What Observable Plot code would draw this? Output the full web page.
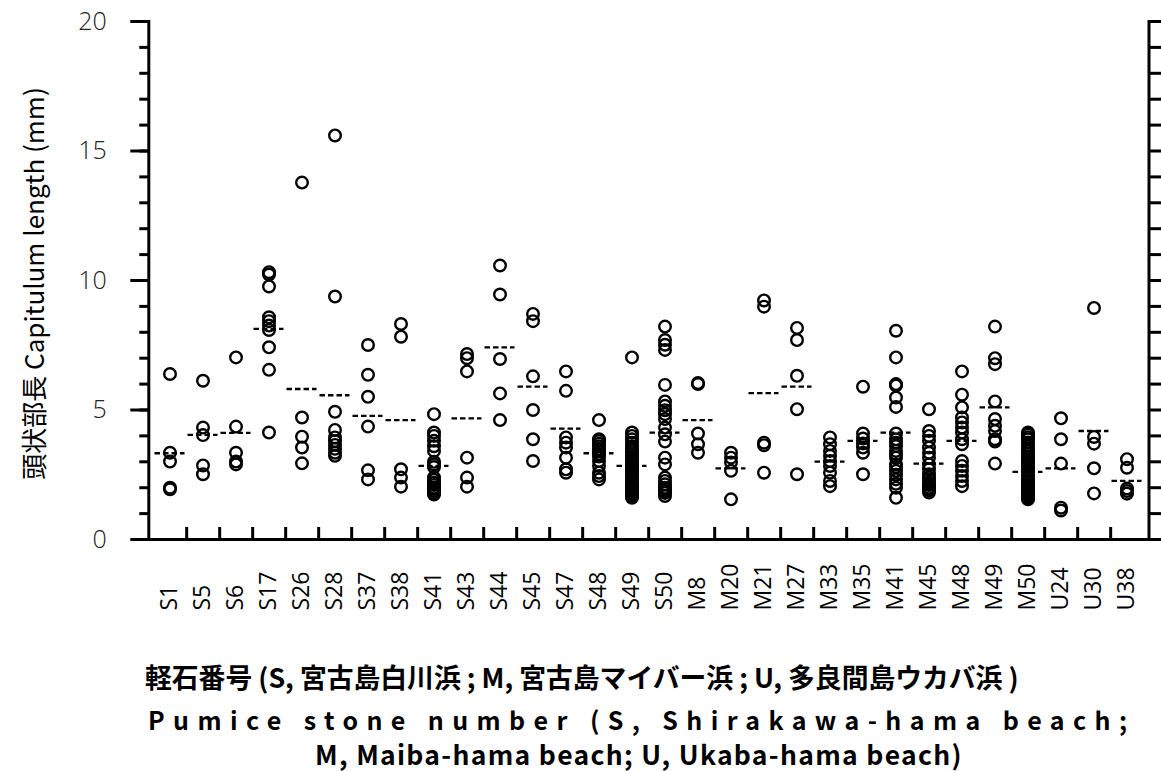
<!DOCTYPE html>
<html><head><meta charset="utf-8">
<script src="https://cdn.jsdelivr.net/npm/d3@7"></script>
<script src="https://cdn.jsdelivr.net/npm/@observablehq/plot@0.6"></script>
<style>
body{margin:0;background:#fff;width:1161px;height:771px;position:relative;overflow:hidden}
#chart{position:absolute;left:0;top:0}
.cap{position:absolute;white-space:nowrap;color:#000;font-family:"Noto Sans CJK JP","Noto Sans",sans-serif;line-height:1}
</style></head><body>
<div id="chart"></div>
<div class="cap" id="c1" style="left:145px;top:664px;font-size:26.8px;font-weight:700">軽石番号 (S, 宮古島白川浜 ; M, 宮古島マイバー浜 ; U, 多良間島ウカバ浜 )</div>
<div class="cap" id="c2" style="left:148px;top:707px;font-size:25px;font-weight:600;letter-spacing:8.4px">Pumice stone number (S, Shirakawa-hama beach;</div>
<div class="cap" id="c3" style="left:315px;top:741px;font-size:26.5px;font-weight:600;letter-spacing:1.3px">M, Maiba-hama beach; U, Ukaba-hama beach)</div>
<script>
const stones = ["S1","S5","S6","S17","S26","S28","S37","S38","S41","S43","S44","S45","S47","S48","S49","S50",
  "M8","M20","M21","M27","M33","M35","M41","M45","M48","M49","M50","U24","U30","U38"];

const lengths = [
  [6.39, 3.35, 3.01, 2.0, 1.94],
  [6.13, 4.32, 4.03, 2.86, 2.52],
  [7.03, 4.36, 3.35, 3.01, 2.9],
  [10.32, 10.23, 9.77, 8.58, 8.43, 8.26, 8.09, 7.42, 6.55, 4.13],
  [13.78, 4.71, 3.97, 3.55, 2.94],
  [15.6, 9.38, 4.93, 4.23, 3.94, 3.8, 3.65, 3.5, 3.35, 3.23],
  [7.51, 6.36, 5.51, 4.36, 2.67, 2.32],
  [8.32, 7.83, 2.71, 2.39, 2.04],
  [4.84, 4.13, 4.0, 3.81, 3.6, 3.42, 3.0, 2.9, 2.8, 2.4, 2.3, 2.19, 2.1, 2.0, 1.95, 1.87, 1.8, 1.74],
  [7.16, 7.0, 6.49, 3.16, 2.39, 2.04],
  [10.58, 9.46, 6.97, 5.64, 4.61],
  [8.71, 8.43, 6.3, 5.0, 3.87, 3.03],
  [6.49, 5.74, 3.94, 3.74, 3.55, 3.16, 2.71, 2.58],
  [4.61, 3.87, 3.8, 3.7, 3.6, 3.5, 3.4, 3.3, 3.2, 3.03, 2.84, 2.58, 2.45, 2.32],
  [7.03, 4.13, 4.0, 3.87, 3.74, 3.6, 3.5, 3.4, 3.3, 3.2, 3.1, 3.0, 2.9, 2.8, 2.7, 2.6, 2.5, 2.4, 2.3, 2.2, 2.1, 2.05, 2.0, 1.95, 1.9, 1.85, 1.8, 1.75, 1.7, 1.65, 1.61],
  [8.22, 7.7, 7.52, 7.32, 5.97, 5.33, 5.16, 4.99, 4.84, 4.65, 4.32, 4.06, 3.78, 3.16, 2.9, 2.39, 2.26, 2.13, 2.0, 1.97, 1.9, 1.85, 1.8, 1.68],
  [6.04, 6.0, 4.09, 3.68, 3.35],
  [3.35, 3.16, 2.97, 2.65, 1.55],
  [9.23, 8.99, 3.74, 3.64, 2.58],
  [8.17, 7.7, 6.32, 5.03, 2.52],
  [3.94, 3.68, 3.42, 3.23, 3.03, 2.84, 2.58, 2.26, 2.06],
  [5.9, 4.09, 3.9, 3.71, 3.55, 3.35, 2.52],
  [8.06, 7.03, 6.0, 5.94, 5.48, 5.12, 4.09, 3.87, 3.74, 3.61, 3.42, 3.3, 3.16, 2.9, 2.8, 2.65, 2.5, 2.32, 2.15, 2.0, 1.61],
  [5.03, 4.19, 4.0, 3.81, 3.55, 3.35, 3.16, 2.9, 2.71, 2.52, 2.4, 2.32, 2.2, 2.13, 2.1, 2.0, 1.97, 1.9, 1.81],
  [6.49, 5.59, 5.1, 4.71, 4.52, 4.32, 4.13, 3.87, 3.68, 3.03, 2.84, 2.65, 2.45, 2.26, 2.06],
  [8.22, 7.0, 6.77, 5.33, 4.65, 4.39, 4.19, 3.87, 3.78, 2.93],
  [4.13, 4.05, 3.95, 3.87, 3.75, 3.6, 3.5, 3.4, 3.3, 3.2, 3.1, 3.0, 2.9, 2.8, 2.7, 2.6, 2.5, 2.4, 2.3, 2.2, 2.1, 2.05, 2.0, 1.95, 1.9, 1.85, 1.8, 1.75, 1.7, 1.65, 1.6, 1.55],
  [4.68, 3.87, 2.93, 1.23, 1.12],
  [8.94, 3.96, 3.7, 2.75, 1.78],
  [3.1, 2.77, 1.97, 1.87, 1.77]
];

const means = [3.33, 4.04, 4.12, 8.13, 5.81, 5.57, 4.77, 4.61, 2.84, 4.68, 7.42, 5.9, 4.28, 3.33, 2.84, 4.13,
  4.61, 2.75, 5.65, 5.9, 3.01, 3.81, 4.13, 2.93, 3.81, 5.1, 2.61, 2.75, 4.19, 2.26];

const yMajorTicks = [0, 5, 10, 15, 20];
const yMinorTicks = d3.range(0, 21);
const yLabel = "頭状部長 Capitulum length (mm)";

const points = stones.flatMap((s, i) => lengths[i].map(v => ({stone: s, length: v})));
const meanRows = stones.map((s, i) => ({stone: s, mean: means[i]}));

const W = 1161, H = 630, mL = 148.3, mR = 12.5, mT = 21, mB = 91;

const chart = Plot.plot({
  width: W, height: H,
  marginLeft: mL, marginRight: mR, marginTop: mT, marginBottom: mB,
  x: {type: "band", domain: stones, padding: 0},
  y: {domain: [0, 20]},
  style: {background: "#fff", fontFamily: "'Open Sans', sans-serif", color: "#000"},
  marks: [
    Plot.ruleX(stones.slice(0, -1), {x: d => d, dx: (W - mL - mR) / stones.length / 2, insetTop: H - mT - mB - 12, strokeWidth: 3, stroke: "#000"}),
    Plot.ruleY([0], {strokeWidth: 3, stroke: "#000"}),
    Plot.frame({anchor: "left", strokeWidth: 3, stroke: "#000"}),
    Plot.frame({anchor: "right", strokeWidth: 3, stroke: "#000"}),
    Plot.axisY({ticks: yMinorTicks, tickSize: 9, strokeWidth: 3, stroke: "#000", fill: "none", label: null}),
    Plot.axisY({ticks: yMajorTicks, tickSize: 18, tickPadding: 24, strokeWidth: 3, stroke: "#000", fill: "#222", fontSize: 25, fontWeight: 300, label: null}),
    Plot.axisY({anchor: "right", ticks: yMinorTicks, tickSize: 13, strokeWidth: 3, stroke: "#000", fill: "none", label: null}),
    Plot.axisX({tickSize: 0, tickRotate: -90, textAnchor: "start", lineAnchor: "middle", tickPadding: 0, dy: 71, fontSize: 23, fill: "#000", label: null}),
    Plot.text([yLabel], {text: d => d, frameAnchor: "left", textAnchor: "middle", dx: -113, dy: 3, rotate: -90, fontSize: 26, fontFamily: "'Noto Sans CJK JP', sans-serif", fill: "#000"}),
    Plot.tickY(meanRows, {x: "stone", y: "mean", stroke: "#000", strokeWidth: 2.3, strokeDasharray: "5.5,3", inset: 1.5}),
    Plot.dot(points, {x: "stone", y: "length", r: 5.8, stroke: "#000", strokeWidth: 2.4, fill: "none"})
  ]
});
document.getElementById("chart").append(chart);
</script>
</body></html>
